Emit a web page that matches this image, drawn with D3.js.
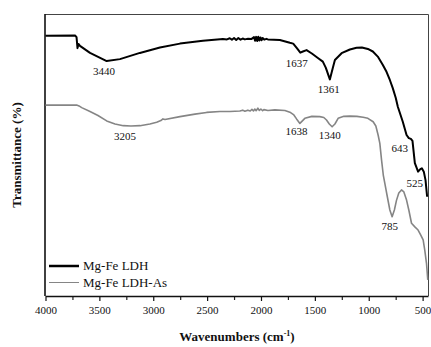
<!DOCTYPE html>
<html>
<head>
<meta charset="utf-8">
<script src="https://cdn.jsdelivr.net/npm/d3@7"></script>
<style>
  body { margin: 0; background: #fff; }
  svg { display: block; }
  text { font-family: "Liberation Serif", "Times New Roman", serif; fill: #111; }
</style>
</head>
<body>
<div id="chart"></div>
<script>
// wavenumber (cm-1) / transmittance (%, arbitrary units)
var ldhWave = [4000, 3726, 3712, 3703, 3694, 3680, 3587, 3432, 3309, 3124, 2938, 2752, 2539, 2353,
  2316, 2290, 2270, 2250, 2230, 2210, 2190, 2170, 2150, 2120, 2090, 2065, 2055, 2045, 2035, 2025,
  2015, 2005, 1995, 1985, 1970, 1950, 1936, 1825, 1732,
  1701, 1667, 1635, 1611, 1577, 1528, 1472, 1426, 1398, 1361, 1333, 1314, 1252, 1175, 1113, 1064,
  1008, 962, 916, 869, 835, 804, 777, 749, 730, 684, 649, 628, 609, 594, 572, 542, 521, 507, 489, 473, 458];
var ldhTrans = [92.3, 92.4, 91.8, 87.9, 89.4, 88.7, 86.2, 83.3, 84.0, 86.2, 88.1, 89.5, 90.5, 91.1,
  91.0, 91.4, 90.9, 91.5, 90.8, 91.5, 90.9, 91.3, 91.0, 91.2, 91.1, 91.8, 90.5, 91.9, 90.4, 91.9,
  90.6, 91.7, 90.7, 91.5, 90.9, 91.2, 91.0, 90.8, 89.8,
  89.5, 87.9, 86.3, 86.7, 87.2, 86.0, 84.4, 83.1, 80.9, 76.8, 80.9, 83.7, 86.1, 87.4, 88.0, 88.1,
  87.6, 86.7, 84.9, 81.9, 79.5, 76.6, 73.7, 70.2, 67.1, 61.8, 57.1, 56.0, 55.7, 55.0, 47.1, 44.1, 45.0, 45.3, 44.1, 41.1, 35.2];

var asWave = [4000, 3711, 3689, 3664, 3587, 3513, 3432, 3355, 3278, 3207, 3123, 3031, 2968, 2929, 2910,
  2891, 2752, 2613, 2505, 2381, 2288, 2196, 2170, 2150, 2122, 2100, 2084, 2070, 2057, 2045, 2029,
  2015, 2001, 1985, 1973, 1936, 1871,
  1778, 1732, 1695, 1670, 1639, 1616, 1593, 1528, 1454, 1417, 1392, 1366, 1340, 1314, 1284, 1231,
  1175, 1110, 1052, 1008, 959, 934, 913, 897, 881, 865, 851, 827, 804, 783, 762, 742, 721, 696,
  674, 649, 628, 603, 572, 542, 517, 495, 480, 464, 452];
var asTrans = [67.7, 67.7, 67.4, 66.8, 65.4, 64.0, 62.1, 61.0, 60.4, 60.3, 60.4, 61.0, 61.6, 62.2, 62.8,
  62.6, 63.6, 64.5, 65.1, 65.4, 65.4, 65.6, 65.9, 65.5, 65.9, 65.6, 66.2, 65.6, 66.3, 65.7, 66.6,
  65.8, 66.3, 65.7, 66.1, 65.8, 66.0,
  65.8, 65.2, 64.2, 62.8, 61.2, 62.1, 63.0, 63.7, 63.6, 63.3, 62.4, 61.0, 60.0, 61.0, 63.0, 63.7,
  63.8, 63.7, 63.4, 63.0, 61.8, 60.3, 57.1, 54.1, 48.2, 42.9, 40.0, 35.1, 30.5, 28.1, 30.5, 34.0, 36.5, 37.6,
  36.9, 34.0, 30.5, 25.8, 24.5, 23.4, 21.6, 19.9, 16.3, 11.6, 5.7];

var seriesNames = ["Mg-Fe LDH", "Mg-Fe LDH-As"];
var peakText = ["3440", "1637", "1361", "3205", "1638", "1340", "643", "525", "785"];
// where each peak label sits, in data units
var peakLabelWave = [3457, 1667, 1370, 3263, 1670, 1361, 712, 572, 804];
var peakLabelTrans = [78.4, 81.3, 72.0, 55.3, 57.1, 55.7, 51.1, 38.7, 23.4];
var xTicks = [4000, 3500, 3000, 2500, 2000, 1500, 1000, 500];
var xMinorTicks = [3750, 3250, 2750, 2250, 1750, 1250, 750];

var svgWidth = 431, svgHeight = 347;
var margin = { top: 14, right: 2, bottom: 51, left: 45 };
var width = svgWidth - margin.left - margin.right;
var height = svgHeight - margin.top - margin.bottom;

var svg = d3.select("#chart").append("svg")
  .attr("width", svgWidth)
  .attr("height", svgHeight);

var chartGroup = svg.append("g")
  .attr("transform", `translate(${margin.left}, ${margin.top})`);

var xScale = d3.scaleLinear().domain([4000, 450]).range([0.5, width - 1]);
var yScale = d3.scaleLinear().domain([0, 100]).range([height, 0]);

// frame (top + right)
chartGroup.append("path")
  .attr("d", `M0,0.5H${width - 0.5}V${height}`)
  .attr("fill", "none")
  .attr("stroke", "#444")
  .attr("stroke-width", 1);

// minor ticks
chartGroup.append("g")
  .attr("transform", `translate(0, ${height})`)
  .call(d3.axisBottom(xScale).tickValues(xMinorTicks).tickSize(4).tickFormat(""))
  .call(g => g.select(".domain").remove())
  .selectAll("line").attr("stroke", "#222").attr("stroke-width", 1.2);

// bottom axis
var xAxis = chartGroup.append("g")
  .attr("transform", `translate(0, ${height})`)
  .call(d3.axisBottom(xScale).tickValues(xTicks).tickSize(5).tickSizeOuter(0).tickPadding(5).tickFormat(d3.format("d")));
xAxis.select(".domain").attr("stroke", "#111").attr("stroke-width", 1.6);
xAxis.selectAll("line").attr("stroke", "#111").attr("stroke-width", 1.2);
xAxis.selectAll("text")
  .attr("font-family", "Liberation Serif, serif")
  .attr("font-size", "11px")
  .attr("fill", "#111");

// left axis line, no ticks
chartGroup.append("line")
  .attr("x1", 0).attr("x2", 0)
  .attr("y1", 0).attr("y2", height)
  .attr("stroke", "#111")
  .attr("stroke-width", 1.6);

var line = d3.line()
  .x(d => xScale(d[0]))
  .y(d => yScale(d[1]));

var asData = asWave.map((w, i) => [w, asTrans[i]]);
var ldhData = ldhWave.map((w, i) => [w, ldhTrans[i]]);

chartGroup.append("path")
  .datum(asData)
  .attr("d", line)
  .attr("fill", "none")
  .attr("stroke", "#858585")
  .attr("stroke-width", 1.6)
  .attr("stroke-linejoin", "round");

chartGroup.append("path")
  .datum(ldhData)
  .attr("d", line)
  .attr("fill", "none")
  .attr("stroke", "#000")
  .attr("stroke-width", 2)
  .attr("stroke-linejoin", "round");

// peak labels
chartGroup.selectAll(".peak")
  .data(peakText)
  .enter()
  .append("text")
  .attr("class", "peak")
  .attr("x", (d, i) => xScale(peakLabelWave[i]))
  .attr("y", (d, i) => yScale(peakLabelTrans[i]))
  .attr("text-anchor", "middle")
  .attr("font-size", "11px")
  .text(d => d);

// legend
var legend = chartGroup.append("g").attr("transform", "translate(4, 252)");
legend.append("line")
  .attr("x1", 0).attr("x2", 30).attr("y1", 0).attr("y2", 0)
  .attr("stroke", "#000").attr("stroke-width", 2.5);
legend.append("text")
  .attr("x", 34).attr("y", 4)
  .attr("font-size", "13px")
  .text(seriesNames[0]);
legend.append("line")
  .attr("x1", 0).attr("x2", 30).attr("y1", 16.5).attr("y2", 16.5)
  .attr("stroke", "#858585").attr("stroke-width", 1);
legend.append("text")
  .attr("x", 34).attr("y", 20.5)
  .attr("font-size", "13px")
  .text(seriesNames[1]);

// axis titles
var xTitle = svg.append("text")
  .attr("x", margin.left + width / 2)
  .attr("y", 341)
  .attr("text-anchor", "middle")
  .attr("font-size", "13px")
  .attr("font-weight", "bold");
xTitle.append("tspan").text("Wavenumbers (cm");
xTitle.append("tspan").attr("font-size", "8px").attr("dy", -5).text("-1");
xTitle.append("tspan").attr("dy", 5).text(")");

svg.append("text")
  .attr("transform", `translate(21, ${margin.top + height / 2}) rotate(-90)`)
  .attr("text-anchor", "middle")
  .attr("font-size", "13px")
  .attr("font-weight", "bold")
  .text("Transmittance (%)");
</script>
</body>
</html>
